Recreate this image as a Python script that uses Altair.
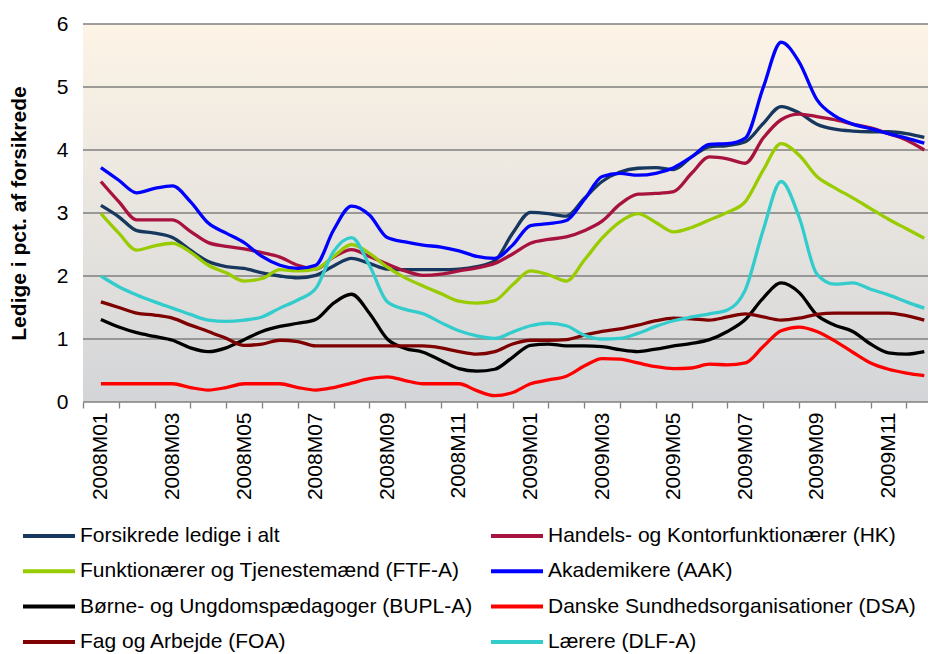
import json
import altair as alt
import pandas as pd

# ---------------- data ----------------
months = ["2008M01", "2008M02", "2008M03", "2008M04", "2008M05", "2008M06",
          "2008M07", "2008M08", "2008M09", "2008M10", "2008M11", "2008M12",
          "2009M01", "2009M02", "2009M03", "2009M04", "2009M05", "2009M06",
          "2009M07", "2009M08", "2009M09", "2009M10", "2009M11", "2009M12"]

# position in months (0 = 2008M01), half-month steps
t_pos = [0, 0.5, 1, 1.5, 2, 2.5, 3, 3.5, 4, 4.5,
         5, 5.5, 6, 6.5, 7, 7.5, 8, 8.5, 9, 9.5,
         10, 10.5, 11, 11.5, 12, 12.5, 13, 13.5, 14, 14.5,
         15, 15.5, 16, 16.5, 17, 17.5, 18, 18.5, 19, 19.5,
         20, 20.5, 21, 21.5, 22, 22.5, 23]

series_names = ["Forsikrede ledige i alt",
                "Handels- og Kontorfunktionærer (HK)",
                "Funktionærer og Tjenestemænd (FTF-A)",
                "Akademikere (AAK)",
                "Børne- og Ungdomspædagoger (BUPL-A)",
                "Danske Sundhedsorganisationer (DSA)",
                "Fag og Arbejde (FOA)",
                "Lærere (DLF-A)"]

series_colors = ["#17375E", "#A8123E", "#99CC00", "#0000FF",
                 "#000000", "#FF0000", "#7F0000", "#33CCCC"]

alt_i_alt = [3.12, 2.94, 2.72, 2.68, 2.61, 2.41, 2.23, 2.15, 2.12, 2.05,
             2.00, 1.97, 2.01, 2.16, 2.28, 2.20, 2.11, 2.10, 2.10, 2.10,
             2.11, 2.15, 2.24, 2.68, 3.01, 2.99, 2.95, 3.23, 3.50, 3.65,
             3.71, 3.72, 3.69, 3.89, 4.05, 4.07, 4.13, 4.42, 4.69, 4.59,
             4.41, 4.33, 4.30, 4.29, 4.29, 4.26, 4.20]

hk = [3.50, 3.18, 2.89, 2.89, 2.89, 2.71, 2.53, 2.47, 2.43, 2.37,
      2.30, 2.17, 2.11, 2.30, 2.42, 2.31, 2.19, 2.08, 2.01, 2.03,
      2.08, 2.13, 2.20, 2.35, 2.52, 2.58, 2.62, 2.72, 2.87, 3.14,
      3.30, 3.31, 3.34, 3.63, 3.89, 3.86, 3.79, 4.19, 4.48, 4.57,
      4.53, 4.48, 4.41, 4.35, 4.26, 4.16, 4.00]

ftf = [2.99, 2.68, 2.41, 2.48, 2.52, 2.38, 2.17, 2.05, 1.92, 1.96,
       2.10, 2.08, 2.11, 2.31, 2.50, 2.36, 2.14, 1.97, 1.84, 1.72,
       1.60, 1.57, 1.61, 1.86, 2.08, 2.02, 1.92, 2.25, 2.60, 2.86,
       2.99, 2.85, 2.70, 2.77, 2.89, 3.01, 3.18, 3.68, 4.10, 3.92,
       3.58, 3.40, 3.24, 3.07, 2.90, 2.75, 2.60]

aak = [3.72, 3.52, 3.32, 3.39, 3.43, 3.18, 2.84, 2.68, 2.53, 2.31,
       2.17, 2.12, 2.17, 2.73, 3.11, 2.97, 2.61, 2.54, 2.49, 2.46,
       2.40, 2.31, 2.28, 2.49, 2.80, 2.83, 2.88, 3.21, 3.58, 3.63,
       3.60, 3.63, 3.72, 3.89, 4.09, 4.10, 4.19, 4.99, 5.71, 5.40,
       4.80, 4.54, 4.41, 4.34, 4.26, 4.19, 4.11]

bupl = [1.31, 1.19, 1.10, 1.04, 0.98, 0.86, 0.80, 0.86, 0.99, 1.12,
        1.20, 1.25, 1.31, 1.57, 1.71, 1.41, 1.00, 0.85, 0.79, 0.66,
        0.53, 0.49, 0.52, 0.71, 0.90, 0.92, 0.89, 0.89, 0.88, 0.83,
        0.80, 0.84, 0.89, 0.93, 0.99, 1.12, 1.31, 1.65, 1.89, 1.74,
        1.38, 1.22, 1.12, 0.92, 0.78, 0.76, 0.80]

dsa = [0.29, 0.29, 0.29, 0.29, 0.29, 0.23, 0.19, 0.23, 0.29, 0.29,
       0.29, 0.23, 0.19, 0.23, 0.30, 0.37, 0.40, 0.34, 0.29, 0.29,
       0.29, 0.18, 0.10, 0.15, 0.29, 0.35, 0.41, 0.57, 0.69, 0.68,
       0.62, 0.56, 0.53, 0.54, 0.60, 0.59, 0.62, 0.88, 1.13, 1.19,
       1.12, 0.97, 0.79, 0.62, 0.52, 0.46, 0.42]

foa = [1.59, 1.50, 1.41, 1.38, 1.33, 1.22, 1.12, 1.01, 0.90, 0.92,
       0.98, 0.96, 0.89, 0.89, 0.89, 0.89, 0.89, 0.89, 0.89, 0.86,
       0.80, 0.76, 0.80, 0.92, 0.98, 0.98, 0.99, 1.06, 1.12, 1.16,
       1.22, 1.29, 1.33, 1.32, 1.30, 1.35, 1.40, 1.35, 1.30, 1.33,
       1.39, 1.41, 1.41, 1.41, 1.41, 1.37, 1.30]

dlf = [2.00, 1.83, 1.70, 1.59, 1.49, 1.39, 1.30, 1.28, 1.30, 1.35,
       1.49, 1.62, 1.80, 2.39, 2.61, 2.17, 1.59, 1.47, 1.40, 1.26,
       1.13, 1.05, 1.01, 1.11, 1.21, 1.25, 1.21, 1.06, 1.00, 1.01,
       1.09, 1.20, 1.29, 1.35, 1.40, 1.46, 1.78, 2.73, 3.50, 2.94,
       2.03, 1.87, 1.89, 1.79, 1.70, 1.59, 1.49]

y_ticks = [0, 1, 2, 3, 4, 5, 6]

# ---------------- build table ----------------
all_series = [alt_i_alt, hk, ftf, aak, bupl, dsa, foa, dlf]
rows = []
for name, vals in zip(series_names, all_series):
    for t, v in zip(t_pos, vals):
        rows.append({"t": t, "value": v, "series": name})
df = pd.DataFrame(rows)

# ---------------- layout ----------------
W, H = 845, 378
PX_PER_MONTH = 35.8
x_domain = [-0.5, -0.5 + W / PX_PER_MONTH]
FONT = "Liberation Sans"

# x axis: ticks on month boundaries, labels every second month between ticks
tick_vals = [m - 0.5 for m in range(len(months)) if m - 0.5 <= x_domain[1]]
label_list = [lab if i % 2 == 0 else "" for i, lab in enumerate(months)]
label_expr = json.dumps(label_list) + "[round(datum.value + 0.5)]"

x_axis = alt.Axis(values=tick_vals, labelExpr=label_expr, labelAngle=-90,
                  labelOffset=PX_PER_MONTH / 2, labelOverlap=False,
                  labelFlush=False, labelBound=False, labelFontSize=21,
                  labelFont=FONT, labelColor="#000000", labelPadding=4,
                  tickSize=6, tickColor="#808080", tickWidth=1.3,
                  domain=False, grid=False, title=None, zindex=1)

y_scale = alt.Scale(domain=[0, 6], nice=False, zero=True)
y_axis = alt.Axis(values=y_ticks, grid=False, domain=False, ticks=False,
                  labelFontSize=21, labelFont=FONT, labelColor="#000000",
                  labelPadding=15, title="Ledige i pct. af forsikrede",
                  titleFont=FONT, titleFontSize=21, titleFontWeight="bold",
                  titleColor="#000000", titlePadding=27)

bg = alt.Chart(pd.DataFrame({"k": [0]})).mark_rect(
    fill=alt.Gradient(gradient="linear",
                      stops=[alt.GradientStop(color="#FDF4E6", offset=0),
                             alt.GradientStop(color="#D3D5D8", offset=1)],
                      x1=0, x2=0, y1=0, y2=1)
).encode(x=alt.value(0), x2=alt.value(W), y=alt.value(0), y2=alt.value(H))

grid = alt.Chart(pd.DataFrame({"value": y_ticks})).mark_rule(
    color="#7F7F7F", strokeWidth=1.4
).encode(y=alt.Y("value:Q", scale=y_scale, axis=y_axis))

legend = alt.Legend(orient="none", legendX=-60, legendY=500,
                    direction="horizontal", columns=2, title=None,
                    symbolType="M-2.6,0H2.6", symbolSize=400,
                    symbolStrokeWidth=4, symbolOffset=14,
                    labelFontSize=21, labelFont=FONT, labelColor="#000000",
                    labelLimit=0, labelOffset=19,
                    rowPadding=13.3, columnPadding=10, padding=0)

lines = alt.Chart(df).mark_line(strokeWidth=3.3, interpolate="monotone").encode(
    x=alt.X("t:Q", scale=alt.Scale(domain=x_domain, nice=False, zero=False),
            axis=x_axis),
    y=alt.Y("value:Q", scale=y_scale, axis=y_axis),
    color=alt.Color("series:N",
                    scale=alt.Scale(domain=series_names, range=series_colors),
                    sort=series_names, legend=legend),
)

chart = alt.layer(bg, grid, lines).properties(
    width=W, height=H,
    autosize=alt.AutoSizeParams(type="none"),
    padding={"left": 75, "top": 16, "right": 0, "bottom": 252},
    background="#FFFFFF",
).configure_view(stroke=None)

chart.save("out.html", embed_options={"renderer": "svg", "actions": False})
